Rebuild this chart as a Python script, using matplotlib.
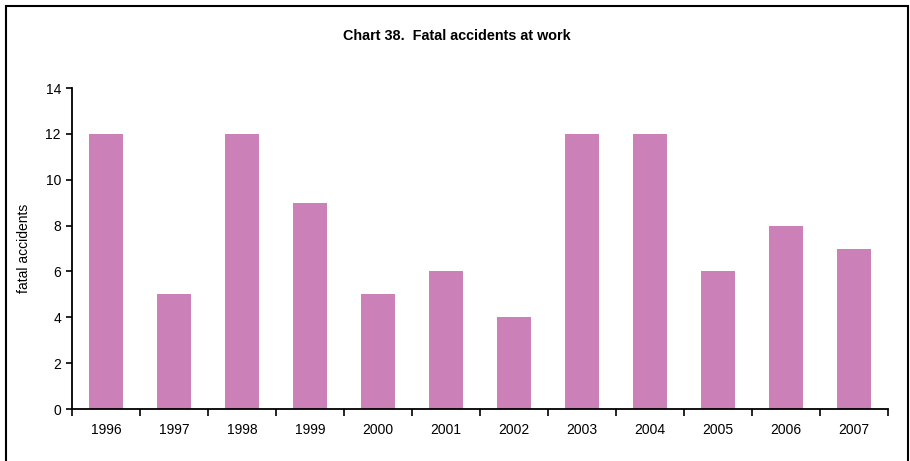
import numpy as np
import matplotlib.pyplot as plt
from matplotlib.patches import Rectangle

plt.rcParams['font.family'] = ['Liberation Sans', 'DejaVu Sans']

years = ['1996', '1997', '1998', '1999', '2000', '2001', '2002', '2003', '2004', '2005', '2006', '2007']
fatal = [12, 5, 12, 9, 5, 6, 4, 12, 12, 6, 8, 7]

fig = plt.figure(figsize=(9.1, 4.61), dpi=100)
ax = fig.add_axes([72 / 910, 52 / 461, 816 / 910, 321 / 461])

x = np.arange(len(years))
ax.bar(x, fatal, width=0.5, color='#cc80b8', zorder=2)

ax.set_xlim(-0.5, len(years) - 0.5)
ax.set_ylim(0, 14)
ax.set_yticks(range(0, 15, 2))
# ticks between categories, labels centred under the bars
ax.set_xticks(np.arange(-0.5, len(years), 1.0))
ax.set_xticklabels([])
ax.set_xticks(x, minor=True)
ax.set_xticklabels(years, minor=True)
ax.tick_params(axis='x', which='minor', length=0, pad=10, labelsize=10)
ax.tick_params(axis='x', which='major', length=5, width=1.2, direction='out')
ax.tick_params(axis='y', length=4, width=1.2, direction='out', labelsize=10, pad=4)

for side in ['top', 'right']:
    ax.spines[side].set_visible(False)
for side in ['left', 'bottom']:
    ax.spines[side].set_linewidth(1.3)

ax.set_ylabel('fatal accidents', fontsize=10, labelpad=10)

fig.text(457 / 910, 1 - 36 / 461, 'Chart 38.  Fatal accidents at work',
         ha='center', va='center', fontsize=10.4, fontweight='bold')

# outer frame
fig.patches.append(Rectangle((6 / 910, -0.05), 902 / 910, 1.05 - 6 / 461,
                             transform=fig.transFigure, fill=False,
                             edgecolor='black', linewidth=1.5))

fig.savefig('out.png', dpi=100)
